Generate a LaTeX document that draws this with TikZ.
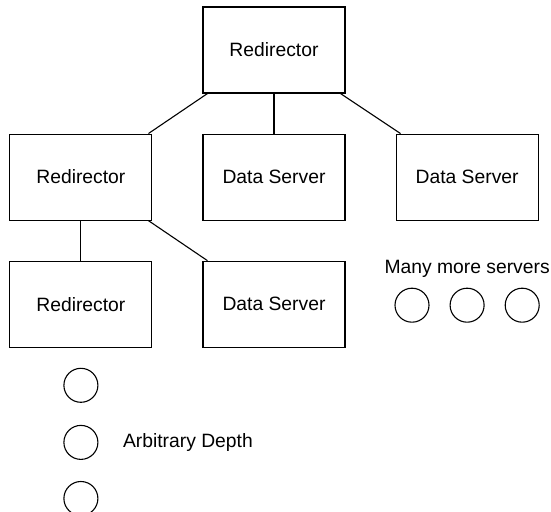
\documentclass[tikz,border=0pt]{standalone}
\usepackage{fontspec}
\setmainfont{Liberation Sans}
\usetikzlibrary{positioning}
\tikzset{
block/.style = {draw, rectangle, minimum width=71pt, minimum height=43pt, inner sep=0pt},
more/.style  = {draw, circle, minimum size=17pt, inner sep=0pt},
note/.style  = {inner sep=0pt}
}

\begin{document}
\begin{tikzpicture}[font=\fontsize{9.65}{11.6}\selectfont, line width=0.55pt, node distance=20pt and 25pt]
    \useasboundingbox (0,0) rectangle (275.5pt,-256pt);

                \node [block] (root) at (137pt,-25pt) {Redirector};
                \node [block, below=of root] (ds1) {Data Server};
                \node [block, left=of ds1] (red1) {Redirector};
                \node [block, right=of ds1] (ds2) {Data Server};
                \node [block, below=of red1] (red2) {Redirector};
                \node [block, below=of ds1] (ds3) {Data Server};

                % arbitrary depth
                \node [more, below=10pt of red2] (depth1) {};
                \node [more, below=11pt of depth1] (depth2) {};
                \node [more, below=10.5pt of depth2] (depth3) {};
                \node [note, right=12pt of depth2] (depth) {Arbitrary Depth};

                % many more servers
                \node [more, below=33.5pt of ds2] (more2) {};
                \node [more, left=10pt of more2] (more1) {};
                \node [more, right=10pt of more2] (more3) {};
                \node [note, above=5pt of more2] (many) {Many more servers};

                \draw ([xshift=2.5pt]root.south west) -- ([xshift=-2pt]red1.north east);
                \draw (root) -- (ds1);
                \draw ([xshift=-2.5pt]root.south east) -- ([xshift=2.5pt]ds2.north west);
                \draw (red1) -- (red2);
                \draw ([xshift=-2pt]red1.south east) -- ([xshift=2.5pt]ds3.north west);
\end{tikzpicture}
\end{document}
